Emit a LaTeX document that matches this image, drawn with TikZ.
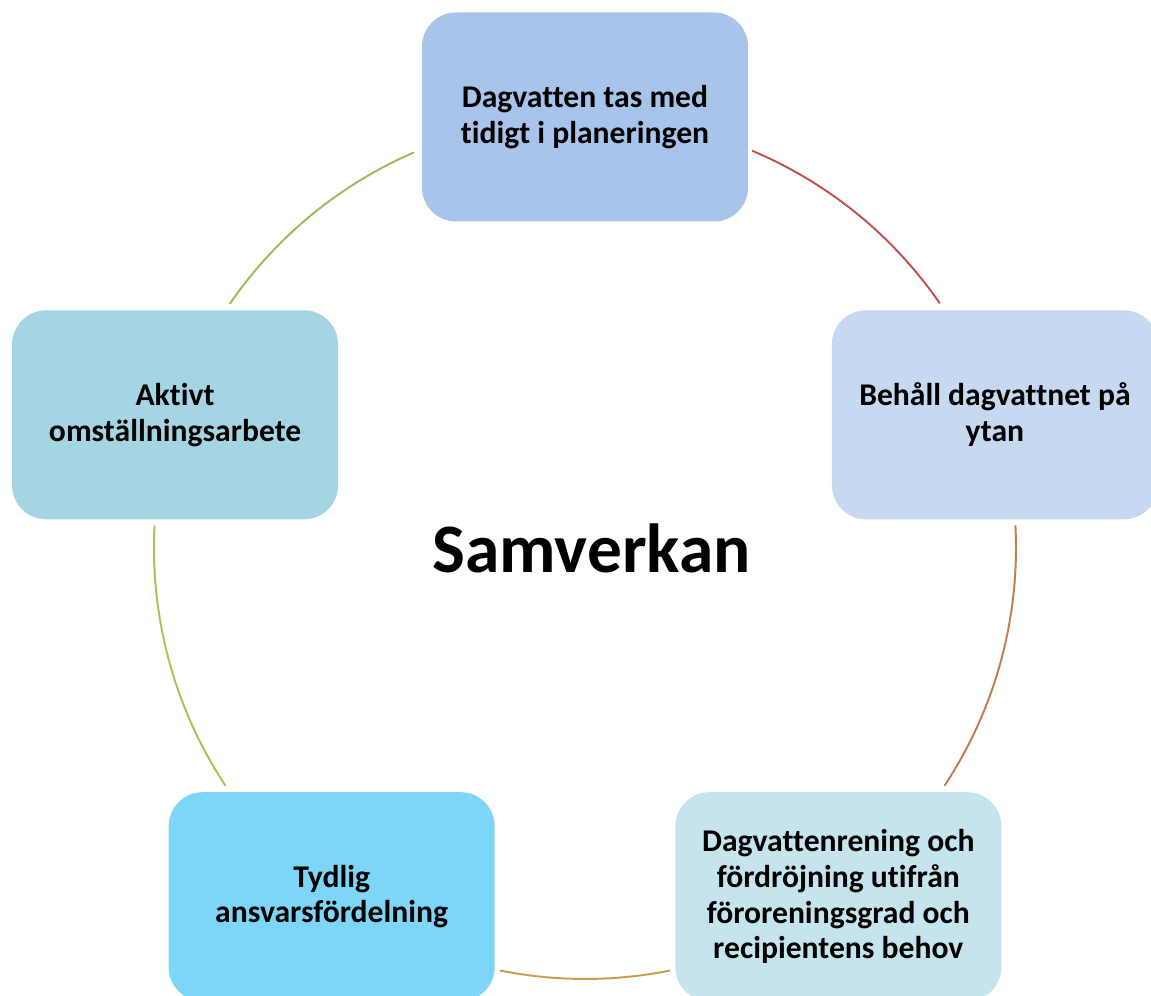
\documentclass[tikz,border=0pt]{standalone}
\usepackage{fontspec}
\setmainfont{Carlito}[Ligatures=NoCommon]
\definecolor{topblue}{RGB}{169,196,234}
\definecolor{rightblue}{RGB}{198,217,240}
\definecolor{lowcyan}{RGB}{198,228,238}
\definecolor{skyblue}{RGB}{125,214,248}
\definecolor{leftcyan}{RGB}{165,213,227}
\definecolor{arcred}{RGB}{192,80,77}
\definecolor{arcorange}{RGB}{197,122,80}
\definecolor{arcgold}{RGB}{196,158,78}
\definecolor{arcolive}{RGB}{184,188,80}
\definecolor{arcgreen}{RGB}{155,187,89}
\begin{document}
\begin{tikzpicture}[
    block/.style={rectangle, rounded corners=0.68cm, minimum width=6.52cm, minimum height=4.18cm,
        align=center, font=\fontsize{18}{20.3}\selectfont\bfseries, inner sep=2pt},
    link/.style={line width=1.1pt}
]
\useasboundingbox (-11.70,-8.96) rectangle (11.32,10.96);
\clip (-11.70,-8.96) rectangle (11.32,10.96);

\coordinate (c) at (0,0);

\node[block, fill=topblue] (b1) at (90:8.62) {Dagvatten tas med\\tidigt i planeringen};
\node[block, fill=rightblue] (b2) at (18:8.62) {Behåll dagvattnet på\\ytan};
\node[block, fill=lowcyan] (b3) at (-54:8.62) {Dagvattenrening och\\fördröjning utifrån\\föroreningsgrad och\\recipientens behov};
\node[block, fill=skyblue] (b4) at (-126:8.62) {Tydlig\\ansvarsfördelning};
\node[block, fill=leftcyan] (b5) at (162:8.62) {Aktivt\\omställningsarbete};

\coordinate (a1) at (67.2:8.62);
\coordinate (a2) at (3.0:8.62);
\coordinate (a3) at (-78.6:8.62);
\coordinate (a4) at (-146.5:8.62);
\coordinate (a5) at (145.5:8.62);

\draw[link, arcred] (a1) arc[start angle=67.2, end angle=34.6, radius=8.62];
\draw[link, arcorange] (a2) arc[start angle=3.0, end angle=-33.5, radius=8.62];
\draw[link, arcgold] (a3) arc[start angle=-78.6, end angle=-101.4, radius=8.62];
\draw[link, arcolive] (a4) arc[start angle=-146.5, end angle=-183.0, radius=8.62];
\draw[link, arcgreen] (a5) arc[start angle=145.5, end angle=113.4, radius=8.62];

\node[font=\fontsize{39.5}{47}\selectfont\bfseries] (mid) at (0.13,0) {Samverkan};
\end{tikzpicture}
\end{document}
